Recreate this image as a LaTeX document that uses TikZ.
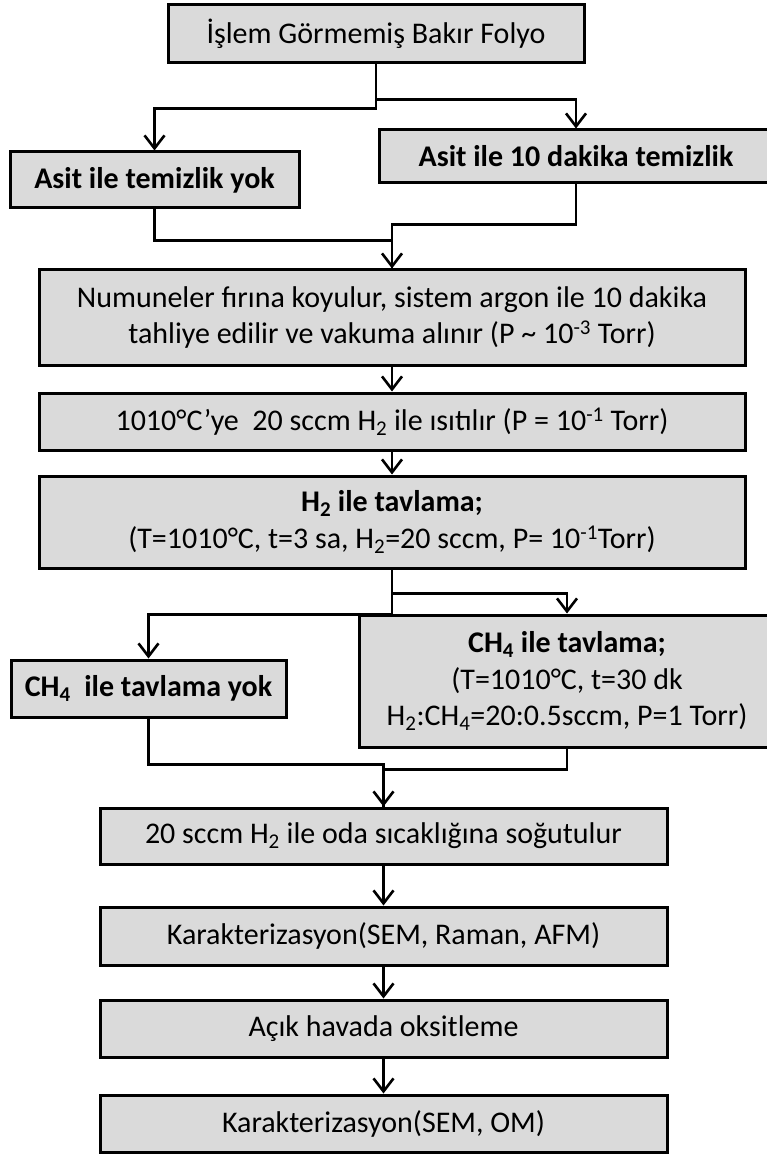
\documentclass[tikz,border=0pt]{standalone}
\usepackage{fontspec}
\setmainfont{Carlito}
\usetikzlibrary{arrows.meta}
\definecolor{boxfill}{RGB}{218,218,218}
\begin{document}
\begin{tikzpicture}[x=1pt,y=-1pt,
  box/.style={draw=black, line width=3pt, fill=boxfill, inner sep=0pt, align=center,
    font=\fontsize{30}{36.5}\selectfont},
  boldbox/.style={box, font=\fontsize{30}{36.5}\selectfont\bfseries},
  conn/.style={line width=2.6pt},
  arr/.style={conn, -{Straight Barb[length=13pt,width=20pt,line width=2.6pt]}}]
\useasboundingbox (0,0) rectangle (766,1155);
% nodes
\node[box, minimum width=416pt, minimum height=58pt] (b1) at (376,34) {İşlem Görmemiş Bakır Folyo};
\node[boldbox, minimum width=289pt, minimum height=56pt] (l1) at (154.5,180) {Asit ile temizlik yok};
\node[boldbox, minimum width=394pt, minimum height=53pt] (r1) at (576,156.5) {Asit ile 10 dakika temizlik};
\node[box, minimum width=706pt, minimum height=95pt] (b3) at (392,317.5) {Numuneler fırına koyulur, sistem argon ile 10 dakika\\tahliye edilir ve vakuma alınır (P \textasciitilde{} 10\textsuperscript{-3} Torr)};
\node[box, minimum width=706pt, minimum height=57pt] (b4) at (392,421.5) {1010°C’ye\ \ 20 sccm H\textsubscript{2} ile ısıtılır (P = 10\textsuperscript{-1} Torr)};
\node[box, minimum width=706pt, minimum height=92pt] (b5) at (392,522) {\textbf{H\textsubscript{2} ile tavlama;}\\(T=1010°C, t=3 sa, H\textsubscript{2}=20 sccm, P= 10\textsuperscript{-1}Torr)};
\node[boldbox, minimum width=275pt, minimum height=57pt] (l2) at (148.5,688.5) {CH\textsubscript{4}\ \ ile tavlama yok};
\node[box, minimum width=416pt, minimum height=132pt] (r2) at (567,681) {\textbf{CH\textsubscript{4} ile tavlama;}\\(T=1010°C, t=30 dk\\H\textsubscript{2}:CH\textsubscript{4}=20:0.5sccm, P=1 Torr)};
\node[box, minimum width=567pt, minimum height=56pt] (b6) at (383.5,836) {20 sccm H\textsubscript{2} ile oda sıcaklığına soğutulur};
\node[box, minimum width=567pt, minimum height=58pt] (b7) at (383.5,936) {Karakterizasyon(SEM, Raman, AFM)};
\node[box, minimum width=567pt, minimum height=57pt] (b8) at (383.5,1028.5) {Açık havada oksitleme};
\node[box, minimum width=567pt, minimum height=57pt] (b9) at (383.5,1123.5) {Karakterizasyon(SEM, OM)};
% connectors
\draw[arr] (b1.south) -- ++(0,35) -| (r1.north);
\draw[arr] (b1.south) -- ++(0,44) -| (l1.north);
\draw[conn] (r1.south) -- ++(0,40) -| (b3.north);
\draw[arr] (l1.south) -- ++(0,31) -| (b3.north);
\draw[arr] (b3.south) -- (b4.north);
\draw[arr] (b4.south) -- (b5.north);
\draw[arr] (b5.south) -- ++(0,24) -| (r2.north);
\draw[arr] (b5.south) -- ++(0,45) -| (l2.north);
\draw[conn] (l2.south) -- ++(0,46) -| (b6.north);
\draw[arr] (r2.south) -- ++(0,21) -| (b6.north);
\draw[arr] (b6.south) -- (b7.north);
\draw[arr] (b7.south) -- (b8.north);
\draw[arr] (b8.south) -- (b9.north);
\end{tikzpicture}
\end{document}
